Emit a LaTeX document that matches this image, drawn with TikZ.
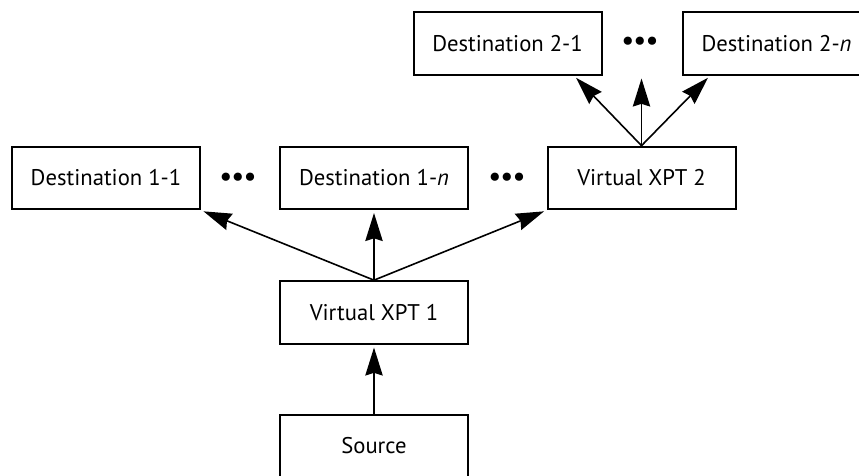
\documentclass[tikz,border=0pt]{standalone}
\usepackage{fontspec}
\setmainfont{PT Sans}
\usepackage{tikz}
\usetikzlibrary{positioning,arrows.meta}

\begin{document}
\begin{tikzpicture}[x=0.75pt, y=-0.75pt,
		xptbox/.style={draw=black, fill=white, rectangle, line width=1.5pt,
				minimum width=141pt, minimum height=47pt, inner sep=0pt, align=center, font=\fontsize{17}{20}\selectfont},
		dots/.style={inner sep=0pt, font=\fontsize{20}{24}\selectfont\bfseries},
		ar/.style={-{Stealth[length=21pt, width=13pt, inset=2pt]}, line width=1.2pt, shorten >=2pt},
	]
	\useasboundingbox (0,0) rectangle (859,475);
	\node[xptbox] (d11) at (106, 178)   {Destination 1-1};
	\node[xptbox] (d1n) at (374, 178)   {Destination 1-\textit{n}};
	\node[xptbox] (vx2) at (641.5, 178) {Virtual XPT 2};
	\node[xptbox] (vx1) at (374, 312.5) {Virtual XPT 1};
	\node[xptbox] (src) at (374, 446)   {Source};
	\node[xptbox] (d21) at (507.5, 43.5) {Destination 2-1};
	\node[xptbox] (d2n) at (776.5, 43.5) {Destination 2-\textit{n}};
	\node[dots] (dt1) at (238, 179) {•••};
	\node[dots] (dt2) at (507, 179) {•••};
	\node[dots] (dt3) at (640, 43)  {•••};
	\draw[ar] (src.north) -- (vx1.south);
	\draw[ar] (vx1.north) -- (d11.south east);
	\draw[ar] (vx1.north) -- (d1n.south);
	\draw[ar] (vx1.north) -- (vx2.south west);
	\draw[ar] (vx2.north) -- ([xshift=50pt]d21.south);
	\draw[ar] (vx2.north) -- (vx2.north |- d21.south);
	\draw[ar] (vx2.north) -- ([xshift=-50pt]d2n.south);
\end{tikzpicture}
\end{document}
